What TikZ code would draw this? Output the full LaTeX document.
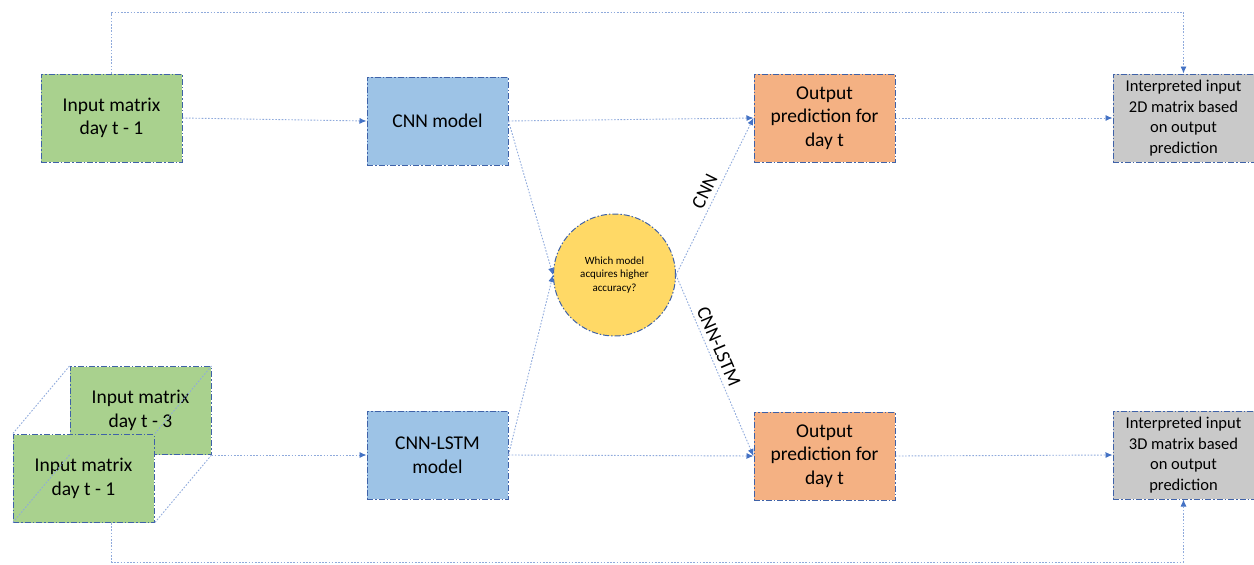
\documentclass[tikz,border=0pt]{standalone}
\usepackage{fontspec}
\setmainfont{Carlito}
\usepackage{xcolor}
\usepackage{tikz}
\usetikzlibrary{arrows.meta, positioning}
\definecolor{matgreen}{HTML}{A9D18E}
\definecolor{modblue}{HTML}{9DC3E6}
\definecolor{outorange}{HTML}{F4B183}
\definecolor{intgray}{HTML}{C9C9C9}
\definecolor{qyellow}{HTML}{FFD966}
\definecolor{edgeblue}{HTML}{3F62A8}
\definecolor{linkblue}{HTML}{8FAADC}
\definecolor{tipblue}{HTML}{4472C4}

\begin{document}
\begin{tikzpicture}[x=1pt, y=-1pt,
        box/.style={draw=edgeblue, line width=1pt, dash pattern=on 6pt off 2pt on 1.5pt off 2pt,
            minimum width=141pt, minimum height=88pt, align=center, inner sep=2pt,
            font=\fontsize{19.5}{23.5}\selectfont},
        mat/.style={box, fill=matgreen},
        model/.style={box, fill=modblue},
        outp/.style={box, fill=outorange},
        interp/.style={box, fill=intgray, font=\fontsize{16.5}{20.5}\selectfont},
        link/.style={draw=linkblue, line width=0.9pt, dash pattern=on 1.6pt off 1.6pt},
        arr/.style={link, -{Latex[length=7pt, width=6pt, color=tipblue]}}]
        \useasboundingbox (0,0) rectangle (1254,565);
        \node[mat] (in1) at (111.5,118) {Input matrix\\day t - 1};
        \node[model] (cnn) at (437.5,121) {CNN model};
        \node[outp] (out1) at (824.5,118) {Output\\prediction for\\day t};
        \node[interp] (int2d) at (1183.5,118) {Interpreted input\\2D matrix based\\on output\\prediction};
        \node[circle, draw=edgeblue, line width=1pt, dash pattern=on 6pt off 2pt on 1.5pt off 2pt,
            fill=qyellow, minimum size=122pt, align=center, inner sep=0pt,
            font=\fontsize{11}{13.8}\selectfont] (dec) at (614.5,275) {Which model\\acquires higher\\accuracy?};
        \node[mat] (back) at (140.5,410.5) {Input matrix\\day t - 3};
        \node[mat] (front) at (83.5,478.5) {Input matrix\\day t - 1};
        \node[model] (lstm) at (437.5,455) {CNN-LSTM\\model};
        \node[outp] (out2) at (824.5,456) {Output\\prediction for\\day t};
        \node[interp] (int3d) at (1183.5,455) {Interpreted input\\3D matrix based\\on output\\prediction};
        \draw[link] (back.north west) -- (front.north west);
        \draw[link] (back.north east) -- (front.north east);
        \draw[link] (back.south east) -- (front.south east);
        \draw[link] (back.south west) -- (front.south west);
        \draw[arr] (in1.east) -- (cnn.west);
        \draw[arr] (cnn.east) -- (out1.west);
        \draw[arr] (out1.east) -- (int2d.west);
        \draw[arr] (back.south east) -- (lstm.west);
        \draw[arr] (lstm.east) -- (out2.west);
        \draw[arr] (out2.east) -- (int3d.west);
        \draw[arr] (cnn.east) -- (dec.west);
        \draw[arr] (lstm.east) -- (dec.west);
        \draw[arr] (dec.east) -- (out1.west)
            node[midway, above=1pt, sloped, font=\fontsize{19.5}{23.5}\selectfont] {CNN};
        \draw[arr] (dec.east) -- (out2.west)
            node[pos=0.42, above=1pt, sloped, font=\fontsize{19.5}{23.5}\selectfont] {CNN-LSTM};
        \draw[arr] (in1.north) -- ++(0,-61) -| (int2d.north);
        \draw[arr] (front.south -| in1.north) -- ++(0,39) -| (int3d.south);
        \end{tikzpicture}
\end{document}
